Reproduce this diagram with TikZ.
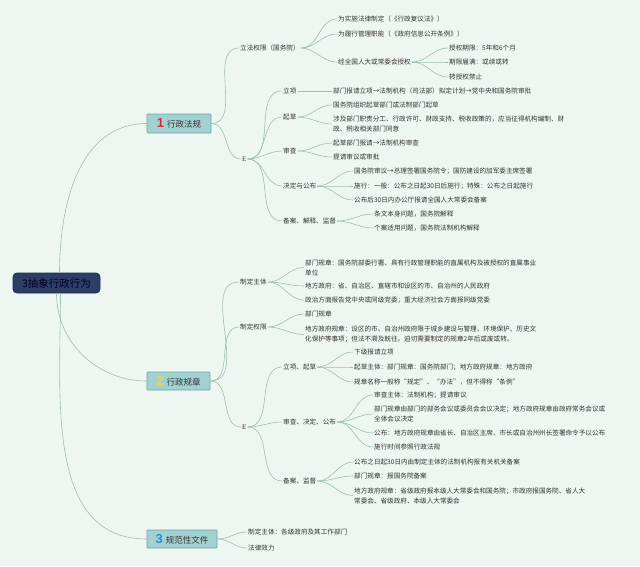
\documentclass[tikz,border=0pt]{standalone}
\usepackage{fontspec}
\newfontfamily\cjk{Noto Sans CJK SC}
\newfontfamily\numfamily{Liberation Sans}
\newfontfamily\efamily{Liberation Serif}
\newcommand\numf{\numfamily\bfseries\fontsize{13}{13}\selectfont}
\definecolor{bg}{HTML}{EEF6F1}
\definecolor{lnc}{HTML}{9DBFAE}
\definecolor{txt}{HTML}{333333}
\definecolor{boxfill}{HTML}{A3D0D0}
\definecolor{boxdraw}{HTML}{6FA8A8}
\definecolor{rootfill}{HTML}{2C3E66}
\definecolor{rootdraw}{HTML}{1E2C4C}
\definecolor{numred}{HTML}{D42A3A}
\definecolor{numyel}{HTML}{F2D34A}
\definecolor{numblu}{HTML}{2A8FD8}
\begin{document}
\begin{tikzpicture}[x=1pt,y=-1pt,
  t/.style={font=\cjk\fontsize{6.6}{10}\selectfont, anchor=west, inner sep=1pt, text=txt, align=left},
  etxt/.style={t, font=\efamily\fontsize{7}{10}\selectfont},
  box/.style={draw=boxdraw, fill=boxfill, line width=0.8pt, rounded corners=1pt, inner sep=0pt, text=txt, font=\cjk\fontsize{8.5}{10}\selectfont},
  rootbox/.style={draw=rootdraw, fill=rootfill, line width=0.8pt, rounded corners=4pt, inner sep=0pt, minimum width=87pt, minimum height=20pt, text=black!85!blue, font=\cjk\fontsize{10.5}{12}\selectfont},
  ln/.style={draw=lnc, line width=0.6pt}
]
\fill[bg] (0,0) rectangle (640,566);
\useasboundingbox (0,0) rectangle (640,566);

% root and main branches
\node[rootbox] (r) at (56.5,283) {3抽象行政行为};
\node[box, minimum width=64pt, minimum height=19pt] (b1) at (179,123.5) {\textcolor{numred}{\numf 1}\hspace{3pt}行政法规};
\node[box, minimum width=63pt, minimum height=18pt] (b2) at (178.5,381) {\textcolor{numyel}{\numf 2}\hspace{3pt}行政规章};
\node[box, minimum width=70pt, minimum height=18pt] (b3) at (182,539) {\textcolor{numblu}{\numf 3}\hspace{3pt}规范性文件};

\draw[ln] ([xshift=3pt]r.north) to[out=90,in=180] (b1.west);
\draw[ln] ([xshift=0pt]r.south) to[out=-90,in=180] (b2.west);
\draw[ln] ([xshift=4pt]r.south) to[out=-90,in=180] (b3.west);

% ---- 行政法规
\node[t] (a1) at (239,48) {立法权限（国务院）};
\node[t] (a11) at (337,19) {为实施法律制定（《行政复议法》）};
\node[t] (a12) at (337,34) {为履行管理职能（《政府信息公开条例》）};
\node[t] (a13) at (337,62) {经全国人大或常委会授权};
\node[t] (a131) at (448,48) {授权期限：5年和6个月};
\node[t] (a132) at (448,62) {期限届满：或续或转};
\node[t] (a133) at (448,77) {转授权禁止};

\node[etxt] (a2) at (241,159) {E};
\node[t] (a21) at (282,91) {立项};
\node[t] (a211) at (332,91) {部门报请立项→法制机构（司法部）拟定计划→党中央和国务院审批};
\node[t] (a22) at (282,117) {起草};
\node[t] (a221) at (332,105) {国务院组织起草部门或法制部门起草};
\node[t] (a222) at (332,124) {涉及部门职责分工、行政许可、财政支持、税收政策的，应当征得机构编制、财\\政、税收相关部门同意};
\node[t] (a23) at (282,151) {审查};
\node[t] (a231) at (332,143) {起草部门报请→法制机构审查};
\node[t] (a232) at (332,157) {提请审议或审批};
\node[t] (a24) at (282,186) {决定与公布};
\node[t] (a241) at (353,171) {国务院审议→总理签署国务院令；国防建设的加军委主席签署};
\node[t] (a242) at (353,186) {施行：一般：公布之日起30日后施行；特殊：公布之日起施行};
\node[t] (a243) at (353,200) {公布后30日内办公厅报请全国人大常委会备案};
\node[t] (a25) at (282,221) {备案、解释、监督};
\node[t] (a251) at (373,214) {条文本身问题，国务院解释};
\node[t] (a252) at (373,228) {个案适用问题，国务院法制机构解释};

\foreach \c in {a1,a2} \draw[ln] (b1.east) to[out=0,in=180] (\c.west);
\foreach \c in {a11,a12,a13} \draw[ln] (a1.east) to[out=0,in=180] (\c.west);
\foreach \c in {a131,a132,a133} \draw[ln] (a13.east) to[out=0,in=180] (\c.west);
\foreach \c in {a21,a22,a23,a24,a25} \draw[ln] (a2.east) to[out=0,in=180] (\c.west);
\draw[ln] (a21.east) -- (a211.west);
\foreach \c in {a221,a222} \draw[ln] (a22.east) to[out=0,in=180] (\c.west);
\foreach \c in {a231,a232} \draw[ln] (a23.east) to[out=0,in=180] (\c.west);
\foreach \c in {a241,a242,a243} \draw[ln] (a24.east) to[out=0,in=180] (\c.west);
\foreach \c in {a251,a252} \draw[ln] (a25.east) to[out=0,in=180] (\c.west);

% ---- 行政规章
\node[t] (c1) at (239,282) {制定主体};
\node[t] (c11) at (304,267.5) {部门规章：国务院部委行署、具有行政管理职能的直属机构及被授权的直属事业\\单位};
\node[t] (c12) at (304,286) {地方政府：省、自治区、直辖市和设区的市、自治州的人民政府};
\node[t] (c13) at (304,300) {政治方面报告党中央或同级党委；重大经济社会方面报同级党委};
\node[t] (c2) at (239,327) {制定权限};
\node[t] (c21) at (304,314) {部门规章};
\node[t] (c22) at (304,334.5) {地方政府规章：设区的市、自治州政府限于城乡建设与管理、环境保护、历史文\\化保护等事项；但法不溯及既往。迫切需要制定的规章2年后或废或转。};

\node[etxt] (c3) at (241,427) {E};
\node[t] (c31) at (282,367) {立项、起草};
\node[t] (c311) at (353,352) {下级报请立项};
\node[t] (c312) at (353,367) {起草主体：部门规章：国务院部门；地方政府规章：地方政府};
\node[t] (c313) at (353,382) {规章名称一般称“规定”、“办法”，但不得称“条例”};
\node[t] (c32) at (282,422) {审查、决定、公布};
\node[t] (c321) at (373,395) {审查主体：法制机构；提请审议};
\node[t] (c322) at (373,414) {部门规章由部门的部务会议或委员会会议决定；地方政府规章由政府常务会议或\\全体会议决定};
\node[t] (c323) at (373,433) {公布：地方政府规章由省长、自治区主席、市长或自治州州长签署命令予以公布};
\node[t] (c324) at (373,447) {施行时间参照行政法规};
\node[t] (c33) at (282,481) {备案、监督};
\node[t] (c331) at (353,462) {公布之日起30日内由制定主体的法制机构报有关机关备案};
\node[t] (c332) at (353,476) {部门规章：报国务院备案};
\node[t] (c333) at (353,495.5) {地方政府规章：省级政府报本级人大常委会和国务院；市政府报国务院、省人大\\常委会、省级政府、本级人大常委会};

\foreach \c in {c1,c2,c3} \draw[ln] (b2.east) to[out=0,in=180] (\c.west);
\foreach \c in {c11,c12,c13} \draw[ln] (c1.east) to[out=0,in=180] (\c.west);
\foreach \c in {c21,c22} \draw[ln] (c2.east) to[out=0,in=180] (\c.west);
\foreach \c in {c31,c32,c33} \draw[ln] (c3.east) to[out=0,in=180] (\c.west);
\foreach \c in {c311,c312,c313} \draw[ln] (c31.east) to[out=0,in=180] (\c.west);
\foreach \c in {c321,c322,c323,c324} \draw[ln] (c32.east) to[out=0,in=180] (\c.west);
\foreach \c in {c331,c332,c333} \draw[ln] (c33.east) to[out=0,in=180] (\c.west);

% ---- 规范性文件
\node[t] (d1) at (247,532) {制定主体：各级政府及其工作部门};
\node[t] (d2) at (247,548) {法律效力};
\foreach \c in {d1,d2} \draw[ln] (b3.east) to[out=0,in=180] (\c.west);
\end{tikzpicture}
\end{document}
